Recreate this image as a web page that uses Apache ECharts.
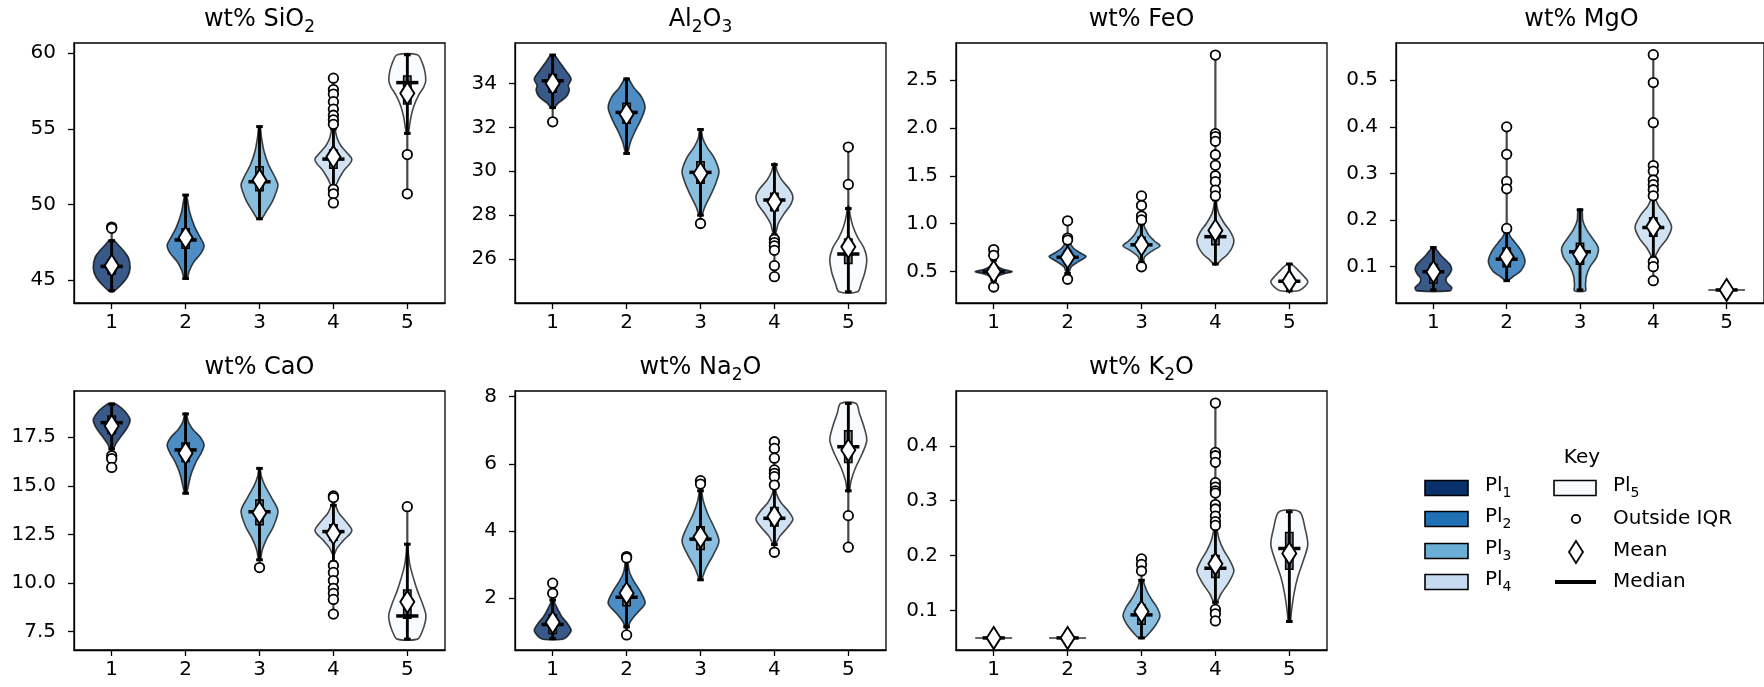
<!DOCTYPE html>
<html>
<head>
<meta charset="utf-8">
<script src="https://cdn.jsdelivr.net/npm/echarts@6/dist/echarts.min.js"></script>
<style>
  html, body { margin: 0; padding: 0; background: #fff; }
  #chart { width: 1764px; height: 687px; }
</style>
</head>
<body>
<div id="chart"></div>
<script>
// Plagioclase populations Pl1..Pl5
const groups = [1, 2, 3, 4, 5];
const groupColors = ['#08306b', '#2171b5', '#6baed6', '#c6dbef', '#f7fbff'];
const groupNames = ['1', '2', '3', '4', '5'];

// Violin profiles: [value, relative density width 0..1], bottom to top
// Box stats: [lower whisker, Q1, median, Q3, upper whisker]

// ---- SiO2 ----
const sio2Ticks = ['45', '50', '55', '60'];
const sio2Violin = [
  [[44.23, 0.1], [44.6, 0.45], [45.2, 0.85], [45.8, 1.0], [46.5, 0.9], [47.0, 0.6], [47.4, 0.3], [47.65, 0.1]],
  [[45.11, 0.08], [45.6, 0.2], [46.2, 0.45], [46.8, 0.85], [47.3, 1.0], [47.8, 0.8], [48.5, 0.5], [49.5, 0.22], [50.62, 0.05]],
  [[49.04, 0.1], [49.5, 0.35], [50.2, 0.7], [50.8, 0.9], [51.3, 1.0], [51.9, 0.8], [52.6, 0.5], [53.5, 0.25], [54.5, 0.1], [55.15, 0.04]],
  [[51.2, 0.1], [51.7, 0.3], [52.3, 0.6], [52.7, 0.9], [53.0, 1.0], [53.4, 0.75], [53.9, 0.4], [54.4, 0.2], [55.1, 0.05]],
  [[54.7, 0.05], [55.2, 0.12], [55.8, 0.2], [56.5, 0.35], [57.2, 0.6], [57.8, 0.9], [58.2, 1.0], [58.8, 0.95], [59.4, 0.8], [59.9, 0.55]]
];
const sio2Box = [[44.3, 45.4, 45.9, 46.3, 47.6], [45.1, 47.1, 47.65, 48.4, 50.62], [49.05, 50.9, 51.5, 52.5, 55.15], [51.1, 52.4, 53.0, 53.6, 55.0], [54.7, 56.65, 58.06, 58.5, 59.9]];
const sio2Mean = [45.95, 47.8, 51.6, 53.15, 57.35];
const sio2Outliers = [[48.5, 48.42], [], [], [58.35, 57.6, 57.3, 56.8, 56.3, 55.9, 55.6, 55.3, 51.0, 50.7, 50.1], [53.3, 50.7]];

// ---- Al2O3 ----
const al2o3Ticks = ['26', '28', '30', '32', '34'];
const al2o3Violin = [
  [[32.86, 0.05], [33.1, 0.3], [33.4, 0.75], [33.7, 0.9], [33.9, 0.85], [34.2, 1.0], [34.6, 0.7], [35.0, 0.35], [35.29, 0.1]],
  [[30.81, 0.05], [31.3, 0.2], [31.8, 0.45], [32.3, 0.75], [32.9, 1.0], [33.4, 0.8], [33.8, 0.4], [34.23, 0.08]],
  [[27.96, 0.05], [28.4, 0.25], [29.0, 0.6], [29.5, 0.85], [30.0, 1.0], [30.6, 0.75], [31.1, 0.35], [31.5, 0.12], [31.92, 0.04]],
  [[27.1, 0.05], [27.6, 0.2], [28.1, 0.55], [28.5, 0.9], [28.85, 1.0], [29.2, 0.8], [29.6, 0.4], [30.0, 0.15], [30.36, 0.04]],
  [[24.51, 0.5], [24.9, 0.7], [25.4, 0.9], [26.0, 1.0], [26.5, 0.85], [27.0, 0.5], [27.5, 0.25], [28.0, 0.1], [28.4, 0.03]]
];
const al2o3Box = [[32.9, 33.6, 34.12, 34.4, 35.29], [30.81, 32.18, 32.68, 33.1, 34.2], [28.0, 29.45, 29.95, 30.43, 31.9], [27.1, 28.2, 28.69, 29.0, 30.3], [24.51, 25.8, 26.23, 26.91, 28.3]];
const al2o3Mean = [34.0, 32.6, 29.9, 28.61, 26.56];
const al2o3Outliers = [[32.25], [], [27.62], [26.9, 26.75, 26.6, 26.4, 25.7, 25.2], [29.4, 31.1]];

// ---- FeO ----
const feoTicks = ['0.5', '1.0', '1.5', '2.0', '2.5'];
const feoViolin = [
  [[0.41, 0.05], [0.45, 0.2], [0.48, 0.6], [0.5, 1.0], [0.52, 0.6], [0.55, 0.25], [0.6, 0.05]],
  [[0.48, 0.05], [0.55, 0.2], [0.6, 0.55], [0.64, 0.9], [0.66, 1.0], [0.7, 0.65], [0.75, 0.3], [0.82, 0.08], [0.87, 0.03]],
  [[0.6, 0.05], [0.66, 0.2], [0.72, 0.6], [0.77, 1.0], [0.82, 0.7], [0.88, 0.4], [0.95, 0.2], [1.02, 0.05]],
  [[0.57, 0.05], [0.62, 0.3], [0.68, 0.65], [0.75, 0.9], [0.83, 1.0], [0.92, 0.8], [1.0, 0.5], [1.1, 0.2], [1.2, 0.07], [1.28, 0.03]],
  [[0.3, 0.5], [0.33, 0.75], [0.37, 0.95], [0.4, 1.0], [0.45, 0.8], [0.5, 0.55], [0.55, 0.3], [0.58, 0.1]]
];
const feoBox = [[0.41, 0.46, 0.5, 0.55, 0.62], [0.48, 0.6, 0.65, 0.71, 0.8], [0.6, 0.72, 0.78, 0.86, 1.0], [0.58, 0.78, 0.865, 0.97, 1.25], [0.3, 0.35, 0.4, 0.45, 0.58]];
const feoMean = [0.5, 0.65, 0.78, 0.93, 0.4];
const feoOutliers = [[0.73, 0.67, 0.34], [1.03, 0.85, 0.83, 0.42], [1.29, 1.19, 1.08, 1.04, 0.55], [2.76, 1.94, 1.91, 1.86, 1.72, 1.61, 1.5, 1.44, 1.35, 1.29], []];

// ---- MgO ----
const mgoTicks = ['0.1', '0.2', '0.3', '0.4', '0.5'];
const mgoViolin = [
  [[0.048, 0.9], [0.055, 1.0], [0.065, 0.75], [0.075, 0.7], [0.085, 0.9], [0.095, 1.0], [0.105, 0.9], [0.115, 0.65], [0.125, 0.4], [0.135, 0.2], [0.141, 0.05]],
  [[0.07, 0.05], [0.08, 0.4], [0.09, 0.75], [0.11, 1.0], [0.13, 0.85], [0.15, 0.5], [0.165, 0.2], [0.18, 0.05]],
  [[0.048, 0.3], [0.06, 0.3], [0.08, 0.35], [0.1, 0.55], [0.12, 0.9], [0.14, 1.0], [0.16, 0.7], [0.18, 0.35], [0.2, 0.15], [0.223, 0.1]],
  [[0.12, 0.05], [0.14, 0.35], [0.16, 0.75], [0.185, 1.0], [0.21, 0.7], [0.23, 0.3], [0.25, 0.05]],
  [[0.05, 1.0]]
];
const mgoBox = [[0.05, 0.065, 0.089, 0.105, 0.141], [0.07, 0.1, 0.116, 0.14, 0.175], [0.05, 0.105, 0.132, 0.15, 0.222], [0.12, 0.165, 0.184, 0.205, 0.25], [0.05, 0.05, 0.05, 0.05, 0.05]];
const mgoMean = [0.089, 0.121, 0.127, 0.186, 0.05];
const mgoOutliers = [[], [0.4, 0.341, 0.283, 0.267, 0.182], [], [0.555, 0.495, 0.409, 0.317, 0.305, 0.286, 0.276, 0.265, 0.252, 0.111, 0.1, 0.07], []];

// ---- CaO ----
const caoTicks = ['7.5', '10.0', '12.5', '15.0', '17.5'];
const caoViolin = [
  [[16.85, 0.05], [17.2, 0.25], [17.6, 0.55], [18.0, 0.85], [18.4, 1.0], [18.8, 0.75], [19.1, 0.4], [19.25, 0.15]],
  [[14.62, 0.05], [15.0, 0.15], [15.6, 0.3], [16.2, 0.55], [16.7, 0.85], [17.1, 1.0], [17.5, 0.8], [17.9, 0.4], [18.3, 0.15], [18.73, 0.04]],
  [[11.2, 0.05], [11.7, 0.15], [12.3, 0.4], [12.9, 0.75], [13.7, 1.0], [14.4, 0.65], [15.0, 0.3], [15.5, 0.1], [15.9, 0.03]],
  [[11.5, 0.05], [11.8, 0.2], [12.2, 0.55], [12.7, 1.0], [13.2, 0.65], [13.6, 0.3], [14.1, 0.05]],
  [[7.12, 0.55], [7.5, 0.8], [8.0, 0.97], [8.4, 1.0], [9.0, 0.8], [9.6, 0.55], [10.2, 0.35], [10.9, 0.15], [11.5, 0.06], [12.05, 0.02]]
];
const caoBox = [[16.9, 17.7, 18.25, 18.6, 19.2], [14.62, 16.25, 16.85, 17.2, 18.7], [11.2, 13.0, 13.67, 14.28, 15.9], [11.1, 12.2, 12.65, 13.0, 14.0], [7.12, 8.19, 8.31, 9.64, 12.0]];
const caoMean = [18.08, 16.68, 13.62, 12.56, 9.04];
const caoOutliers = [[16.55, 16.4, 15.95], [], [10.8], [14.48, 14.4, 10.9, 10.55, 10.13, 9.73, 9.47, 9.16, 8.41], [13.93]];

// ---- Na2O ----
const na2oTicks = ['2', '4', '6', '8'];
const na2oViolin = [
  [[0.78, 0.55], [0.9, 0.85], [1.05, 1.0], [1.25, 0.8], [1.45, 0.5], [1.65, 0.3], [1.85, 0.12], [2.0, 0.03]],
  [[1.1, 0.05], [1.3, 0.2], [1.55, 0.55], [1.85, 1.0], [2.2, 0.75], [2.5, 0.4], [2.8, 0.15], [3.19, 0.04]],
  [[2.55, 0.05], [2.9, 0.3], [3.3, 0.7], [3.7, 1.0], [4.1, 0.75], [4.5, 0.4], [4.9, 0.15], [5.22, 0.04]],
  [[3.6, 0.05], [3.85, 0.3], [4.1, 0.7], [4.35, 1.0], [4.6, 0.75], [4.85, 0.35], [5.1, 0.12], [5.32, 0.03]],
  [[5.17, 0.05], [5.5, 0.15], [5.9, 0.4], [6.3, 0.75], [6.7, 1.0], [7.1, 0.85], [7.5, 0.6], [7.8, 0.42]]
];
const na2oBox = [[0.8, 0.95, 1.22, 1.5, 1.95], [1.15, 1.78, 2.03, 2.35, 3.15], [2.55, 3.45, 3.76, 4.13, 5.2], [3.6, 4.15, 4.38, 4.7, 5.3], [5.2, 6.04, 6.51, 6.99, 7.8]];
const na2oMean = [1.28, 2.15, 3.83, 4.43, 6.41];
const na2oOutliers = [[2.45, 2.15], [3.24, 3.2, 0.91], [5.5, 5.4], [6.66, 6.46, 6.17, 5.82, 5.72, 5.62, 5.37, 3.37], [4.46, 3.52]];

// ---- K2O ----
const k2oTicks = ['0.1', '0.2', '0.3', '0.4'];
const k2oViolin = [
  [[0.05, 1.0]],
  [[0.05, 1.0]],
  [[0.05, 0.15], [0.06, 0.45], [0.075, 0.8], [0.09, 1.0], [0.105, 0.85], [0.12, 0.55], [0.135, 0.3], [0.156, 0.05]],
  [[0.113, 0.05], [0.13, 0.3], [0.15, 0.7], [0.172, 1.0], [0.19, 0.8], [0.21, 0.45], [0.23, 0.2], [0.253, 0.04]],
  [[0.08, 0.05], [0.1, 0.12], [0.13, 0.25], [0.16, 0.45], [0.19, 0.75], [0.22, 1.0], [0.25, 0.85], [0.28, 0.55]]
];
const k2oBox = [[0.05, 0.05, 0.05, 0.05, 0.05], [0.05, 0.05, 0.05, 0.05, 0.05], [0.05, 0.075, 0.092, 0.11, 0.155], [0.115, 0.16, 0.177, 0.2, 0.25], [0.08, 0.175, 0.213, 0.242, 0.28]];
const k2oMean = [0.05, 0.05, 0.098, 0.185, 0.204];
const k2oOutliers = [[], [], [0.194, 0.184, 0.172], [0.478, 0.388, 0.382, 0.37, 0.333, 0.325, 0.318, 0.314, 0.293, 0.285, 0.272, 0.262, 0.255, 0.102, 0.094, 0.081], []];

// ---- panel layout ----
const FONT = 'DejaVu Sans';
const ROW_TOP = [43, 391];
const ROW_H = [260, 259];
const COL_LEFT = [74, 515, 956, 1396];
const GRID_W = 371;

const panels = [
  { title: '{n|wt% SiO}{s|2}', row: 0, col: 0, yMin: 43.48, yMax: 60.68, ticks: sio2Ticks, violin: sio2Violin, box: sio2Box, mean: sio2Mean, outliers: sio2Outliers },
  { title: '{n|Al}{s|2}{n|O}{s|3}', row: 0, col: 1, yMin: 24.0, yMax: 35.84, ticks: al2o3Ticks, violin: al2o3Violin, box: al2o3Box, mean: al2o3Mean, outliers: al2o3Outliers },
  { title: '{n|wt% FeO}', row: 0, col: 2, yMin: 0.173, yMax: 2.886, ticks: feoTicks, violin: feoViolin, box: feoBox, mean: feoMean, outliers: feoOutliers },
  { title: '{n|wt% MgO}', row: 0, col: 3, yMin: 0.022, yMax: 0.58, ticks: mgoTicks, violin: mgoViolin, box: mgoBox, mean: mgoMean, outliers: mgoOutliers },
  { title: '{n|wt% CaO}', row: 1, col: 0, yMin: 6.56, yMax: 19.88, ticks: caoTicks, violin: caoViolin, box: caoBox, mean: caoMean, outliers: caoOutliers },
  { title: '{n|wt% Na}{s|2}{n|O}', row: 1, col: 1, yMin: 0.46, yMax: 8.17, ticks: na2oTicks, violin: na2oViolin, box: na2oBox, mean: na2oMean, outliers: na2oOutliers },
  { title: '{n|wt% K}{s|2}{n|O}', row: 1, col: 2, yMin: 0.028, yMax: 0.5, ticks: k2oTicks, violin: k2oViolin, box: k2oBox, mean: k2oMean, outliers: k2oOutliers }
];

const HALF = 0.25;   // half of the full violin width
const BOXW = 0.05;   // half width of the IQR box
const CAPW = 0.045;  // half width of whisker caps
const MEDW = 0.15;   // half width of the median bar

function rgba(hex, a) {
  const n = parseInt(hex.slice(1), 16);
  return 'rgba(' + (n >> 16 & 255) + ',' + (n >> 8 & 255) + ',' + (n & 255) + ',' + a + ')';
}

const titleRich = {
  n: { fontSize: 24, fontFamily: FONT, color: '#000', verticalAlign: 'bottom', padding: [0, 0, 5, 0] },
  s: { fontSize: 17, fontFamily: FONT, color: '#000', verticalAlign: 'bottom' }
};
const legendRich = {
  n: { fontSize: 20, fontFamily: FONT, color: '#000', verticalAlign: 'bottom', padding: [0, 0, 5, 0] },
  s: { fontSize: 14, fontFamily: FONT, color: '#000', verticalAlign: 'bottom' }
};

const grids = [], xAxes = [], yAxes = [], series = [], graphics = [];

panels.forEach((p, k) => {
  const left = COL_LEFT[p.col], top = ROW_TOP[p.row], height = ROW_H[p.row];
  grids.push({ left: left, top: top, width: GRID_W, height: height, show: true, borderColor: '#000', borderWidth: 1.3, backgroundColor: 'transparent', containLabel: false });
  xAxes.push({
    type: 'value', gridIndex: k, min: 0.49, max: 5.51,
    axisLine: { show: true, onZero: false, lineStyle: { color: '#000', width: 1.3 } },
    axisTick: { show: true, customValues: groups, length: 6, lineStyle: { color: '#000', width: 1.3 } },
    axisLabel: { customValues: groups, formatter: v => groupNames[Math.round(v) - 1], fontSize: 20, fontFamily: FONT, color: '#000', margin: 10 },
    splitLine: { show: false }
  });
  const tickVals = p.ticks.map(Number);
  yAxes.push({
    type: 'value', gridIndex: k, min: p.yMin, max: p.yMax,
    axisLine: { show: true, onZero: false, lineStyle: { color: '#000', width: 1.3 } },
    axisTick: { show: true, customValues: tickVals, length: 6, lineStyle: { color: '#000', width: 1.3 } },
    axisLabel: {
      customValues: tickVals, fontSize: 20, fontFamily: FONT, color: '#000', margin: 18,
      formatter: v => { const j = tickVals.findIndex(t => Math.abs(t - v) < 1e-9); return j >= 0 ? p.ticks[j] : ''; }
    },
    splitLine: { show: false }
  });

  // violin bodies
  series.push({
    type: 'custom', xAxisIndex: k, yAxisIndex: k, z: 2, silent: true,
    data: groups.map((g, i) => [g, p.box[i][2]]),
    renderItem: (params, api) => {
      const i = params.dataIndex, g = groups[i];
      const prof = p.violin[i];
      if (prof.length === 1) {
        const a = api.coord([g - HALF * prof[0][1], prof[0][0]]);
        const b = api.coord([g + HALF * prof[0][1], prof[0][0]]);
        return { type: 'line', shape: { x1: a[0], y1: a[1], x2: b[0], y2: b[1] }, style: { stroke: 'rgba(0,0,0,0.8)', lineWidth: 1.6 } };
      }
      const leftSide = prof.map(d => api.coord([g - HALF * d[1], d[0]]));
      const rightSide = prof.slice().reverse().map(d => api.coord([g + HALF * d[1], d[0]]));
      return {
        type: 'polygon',
        shape: { points: leftSide.concat(rightSide), smooth: 0.3 },
        style: { fill: rgba(groupColors[i], 0.8), stroke: 'rgba(0,0,0,0.72)', lineWidth: 1.6 }
      };
    }
  });

  // extent bar, IQR box, whiskers, caps and median
  series.push({
    type: 'custom', xAxisIndex: k, yAxisIndex: k, z: 3, silent: true,
    data: groups.map((g, i) => [g, p.box[i][2]]),
    renderItem: (params, api) => {
      const i = params.dataIndex, g = groups[i];
      const [lo, q1, med, q3, hi] = p.box[i];
      const vals = p.violin[i].map(d => d[0]).concat(p.outliers[i], [lo, hi]);
      const vmin = Math.min.apply(null, vals), vmax = Math.max.apply(null, vals);
      const P = (dx, v) => api.coord([g + dx, v]);
      const line = (a, b, color, w) => ({ type: 'line', shape: { x1: a[0], y1: a[1], x2: b[0], y2: b[1] }, style: { stroke: color, lineWidth: w } });
      const children = [];
      if (vmax > vmin) children.push(line(P(0, vmin), P(0, vmax), 'rgba(0,0,0,0.72)', 2.2));
      if (hi > lo) {
        const tl = P(-BOXW, q3), br = P(BOXW, q1);
        children.push({ type: 'rect', shape: { x: tl[0], y: tl[1], width: br[0] - tl[0], height: br[1] - tl[1] }, style: { fill: '#7a7a7a', stroke: '#000', lineWidth: 1.5 } });
        children.push(line(P(0, lo), P(0, hi), '#000', 2.8));
        children.push(line(P(-CAPW, lo), P(CAPW, lo), '#000', 3));
        children.push(line(P(-CAPW, hi), P(CAPW, hi), '#000', 3));
      }
      children.push(line(P(-MEDW, med), P(MEDW, med), '#000', 3.5));
      return { type: 'group', children: children };
    }
  });

  // points outside the whiskers
  const outPts = [];
  p.outliers.forEach((arr, i) => arr.forEach(v => outPts.push([groups[i], v])));
  series.push({
    type: 'scatter', xAxisIndex: k, yAxisIndex: k, z: 4, silent: true,
    symbol: 'circle', symbolSize: 9.5,
    itemStyle: { color: '#fff', borderColor: '#000', borderWidth: 1.8, opacity: 1 },
    data: outPts
  });

  // means
  series.push({
    type: 'scatter', xAxisIndex: k, yAxisIndex: k, z: 5, silent: true,
    symbol: 'diamond', symbolSize: [14, 22],
    itemStyle: { color: '#fff', borderColor: '#000', borderWidth: 2, opacity: 1 },
    data: groups.map((g, i) => [g, p.mean[i]])
  });

  // panel title
  graphics.push({
    type: 'text', x: left + GRID_W / 2, y: top - 21, silent: true,
    style: { text: p.title, rich: titleRich, align: 'center', verticalAlign: 'middle' }
  });
});

// key
const keyRows = [488, 519, 551, 582];
graphics.push({ type: 'text', x: 1582, y: 458, silent: true, style: { text: 'Key', fontSize: 20, fontFamily: FONT, fill: '#000', align: 'center', verticalAlign: 'middle' } });
for (let i = 0; i < 4; i++) {
  graphics.push({ type: 'rect', silent: true, shape: { x: 1425, y: keyRows[i] - 7.5, width: 43, height: 15 }, style: { fill: groupColors[i], stroke: '#000', lineWidth: 1.6 } });
  graphics.push({ type: 'text', x: 1485, y: keyRows[i], silent: true, style: { text: '{n|Pl}{s|' + (i + 1) + '}', rich: legendRich, align: 'left', verticalAlign: 'middle' } });
}
graphics.push({ type: 'rect', silent: true, shape: { x: 1554, y: keyRows[0] - 7.5, width: 42, height: 15 }, style: { fill: groupColors[4], stroke: '#000', lineWidth: 1.6 } });
graphics.push({ type: 'text', x: 1613, y: keyRows[0], silent: true, style: { text: '{n|Pl}{s|5}', rich: legendRich, align: 'left', verticalAlign: 'middle' } });
graphics.push({ type: 'circle', silent: true, shape: { cx: 1576, cy: keyRows[1], r: 4.2 }, style: { fill: '#fff', stroke: '#000', lineWidth: 1.8 } });
graphics.push({ type: 'text', x: 1613, y: keyRows[1], silent: true, style: { text: 'Outside IQR', fontSize: 20, fontFamily: FONT, fill: '#000', align: 'left', verticalAlign: 'middle' } });
graphics.push({ type: 'polygon', silent: true, shape: { points: [[1576, keyRows[2] - 10], [1583, keyRows[2] + 1], [1576, keyRows[2] + 12], [1569, keyRows[2] + 1]] }, style: { fill: '#fff', stroke: '#000', lineWidth: 1.8 } });
graphics.push({ type: 'text', x: 1613, y: keyRows[2], silent: true, style: { text: 'Mean', fontSize: 20, fontFamily: FONT, fill: '#000', align: 'left', verticalAlign: 'middle' } });
graphics.push({ type: 'line', silent: true, shape: { x1: 1555, y1: keyRows[3], x2: 1596, y2: keyRows[3] }, style: { stroke: '#000', lineWidth: 4 } });
graphics.push({ type: 'text', x: 1613, y: keyRows[3], silent: true, style: { text: 'Median', fontSize: 20, fontFamily: FONT, fill: '#000', align: 'left', verticalAlign: 'middle' } });

const chart = echarts.init(document.getElementById('chart'), null, { renderer: 'canvas' });
chart.setOption({
  animation: false,
  backgroundColor: '#fff',
  textStyle: { fontFamily: FONT },
  grid: grids,
  xAxis: xAxes,
  yAxis: yAxes,
  series: series,
  graphic: graphics
});
</script>
</body>
</html>
